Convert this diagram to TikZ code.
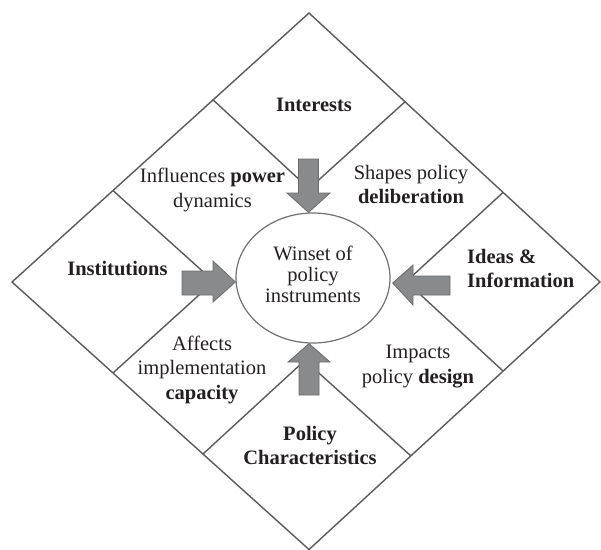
\documentclass[tikz,border=0pt]{standalone}
\usepackage{fontspec}
\setmainfont{Liberation Serif}
\usetikzlibrary{calc,shapes.geometric}
\definecolor{linegray}{HTML}{5A5A5A}
\definecolor{ellgray}{HTML}{707070}
\definecolor{arrowfill}{HTML}{898A8C}
\definecolor{arrowedge}{HTML}{6B6B6B}
\definecolor{ink}{HTML}{231F20}
\begin{document}
\begin{tikzpicture}[x=1pt,y=-1pt,
  grid/.style={draw=linegray,line width=1.4pt,line join=miter},
  lbl/.style={text=ink,font={\fontsize{20.5}{24.5}\selectfont},inner sep=0pt,align=center},
  lblb/.style={lbl,font={\fontsize{20.5}{24.5}\selectfont\bfseries}},
  blockarrow/.style={fill=arrowfill,draw=arrowedge,line width=0.8pt,line join=miter}]
\useasboundingbox (0,0) rectangle (601,549);
% outer diamond
\coordinate (T) at (309,13);
\coordinate (L) at (12,282);
\coordinate (R) at (600,282);
\coordinate (B) at (309,549.5);
\draw[grid] (T) -- (R) -- (B) -- (L) -- cycle;
% corner cells
\coordinate (TL1) at ($(T)!0.323!(L)$);
\coordinate (TR1) at ($(T)!0.330!(R)$);
\coordinate (LT1) at ($(L)!0.340!(T)$);
\coordinate (LB1) at ($(L)!0.340!(B)$);
\coordinate (RT1) at ($(R)!0.333!(T)$);
\coordinate (RB1) at ($(R)!0.333!(B)$);
\coordinate (BL1) at ($(B)!0.357!(L)$);
\coordinate (BR1) at ($(B)!0.350!(R)$);
\draw[grid] (TL1) -- ($(TL1)+(TR1)-(T)$) -- (TR1);
\draw[grid] (LT1) -- ($(LT1)+(LB1)-(L)$) -- (LB1);
\draw[grid] (RT1) -- ($(RT1)+(RB1)-(R)$) -- (RB1);
\draw[grid] (BL1) -- ($(BL1)+(BR1)-(B)$) -- (BR1);
% central ellipse
\node[draw=ellgray,line width=1.2pt,ellipse,minimum width=154pt,minimum height=130pt,inner sep=0pt] (w) at (313,278) {};
\node[lbl,font={\fontsize{20.5}{21}\selectfont}] (wt) at (313,274) {Winset of\\policy\\instruments};
% block arrows
\draw[blockarrow] (298.5,159) -- (318.5,159) -- (318.5,193) -- (330,193) -- ($(w.north)+(-4.5,0)$) -- (287,193) -- (298.5,193) -- cycle;
\draw[blockarrow] (299,395) -- (319,395) -- (319,362) -- (330,362) -- ($(w.south)+(-4,0)$) -- (288,362) -- (299,362) -- cycle;
\draw[blockarrow] (182,271) -- (213,271) -- (213,261) -- ($(w.west)+(0,4)$) -- (213,302) -- (213,295) -- (182,295) -- cycle;
\draw[blockarrow] (450,276) -- (413,276) -- (413,265) -- ($(w.east)+(2,5)$) -- (413,305) -- (413,295) -- (450,295) -- cycle;
% labels
\node[lblb,anchor=base] (int) at (314,111) {Interests};
\node[lblb,anchor=base] (ins) at (117.5,275) {Institutions};
\node[lblb,align=left,anchor=west] (ide) at (467,268.5) {Ideas \&\\Information};
\node[lblb] (pol) at (310,445.5) {Policy\\Characteristics};
\node[lbl] (inf) at (212.5,190.2) {Influences \textbf{power}\\dynamics};
\node[lbl] (sha) at (411,184.5) {Shapes policy\\\textbf{deliberation}};
\node[lbl] (aff) at (202,369.8) {Affects\\implementation\\\textbf{capacity}};
\node[lbl] (imp) at (418,366.3) {Impacts\\policy \textbf{design}};
\end{tikzpicture}
\end{document}
